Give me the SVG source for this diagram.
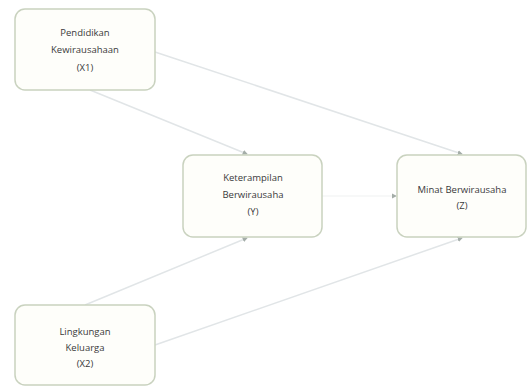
<svg xmlns="http://www.w3.org/2000/svg" width="529" height="389" viewBox="0 0 529 389">
<defs>
<style>
.box{fill:#fefefa;stroke:#c9d2bf;stroke-width:1.5}
.lbl{font-family:"Open Sans","Liberation Sans",sans-serif;font-size:9.5px;fill:#3a3a3a;text-anchor:middle}
.edge{stroke:#e1e5e7;stroke-width:1.5;fill:none;marker-end:url(#arr)}
</style>
<marker id="arr" viewBox="0 0 6 6" refX="5" refY="3" markerWidth="3.5" markerHeight="3.5" orient="auto">
<path d="M0,0 L6,3 L0,6 z" fill="#a4ada8"/>
</marker>
</defs>
<rect width="529" height="389" fill="#ffffff"/>
<g id="connectors">
<line class="edge" x1="90" y1="90" x2="247" y2="154"/>
<line class="edge" x1="155" y1="52" x2="462" y2="154"/>
<line class="edge" x1="85" y1="305" x2="247" y2="238"/>
<line class="edge" x1="155" y1="345" x2="462" y2="238"/>
<line class="edge" x1="322" y1="196" x2="396" y2="196" style="stroke:#f5f6f6"/>
</g>
<g id="x1">
<rect class="box" x="15" y="9" width="140" height="81" rx="10"/>
<text class="lbl" x="85" y="36">Pendidikan</text>
<text class="lbl" x="85" y="53">Kewirausahaan</text>
<text class="lbl" x="85" y="71">(X1)</text>
</g>
<g id="y">
<rect class="box" x="183" y="155" width="139" height="82" rx="10"/>
<text class="lbl" x="253" y="181">Keterampilan</text>
<text class="lbl" x="253" y="198">Berwirausaha</text>
<text class="lbl" x="253" y="215">(Y)</text>
</g>
<g id="z">
<rect class="box" x="397" y="155" width="129" height="82" rx="10"/>
<text class="lbl" x="462" y="193">Minat Berwirausaha</text>
<text class="lbl" x="462" y="209">(Z)</text>
</g>
<g id="x2">
<rect class="box" x="15" y="305" width="140" height="80" rx="10"/>
<text class="lbl" x="85" y="335">Lingkungan</text>
<text class="lbl" x="85" y="351">Keluarga</text>
<text class="lbl" x="85" y="367">(X2)</text>
</g>
</svg>
